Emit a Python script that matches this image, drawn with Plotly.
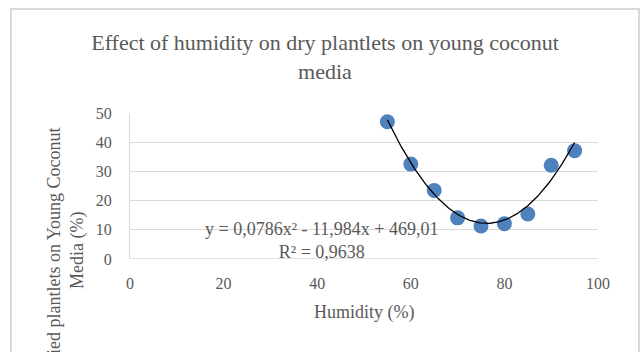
import numpy as np
import plotly.graph_objects as go

humidity = [55, 60, 65, 70, 75, 80, 85, 90, 95]
dried = [47.0, 32.5, 23.5, 14.1, 11.3, 12.1, 15.4, 32.1, 37.1]
coef = [0.0786, -11.984, 469.01]
x_ticks = [0, 20, 40, 60, 80, 100]
y_ticks = [0, 10, 20, 30, 40, 50]

xs = np.linspace(55, 95, 200)
ys = coef[0] * xs**2 + coef[1] * xs + coef[2]

FONT = "Liberation Serif"
GRAY = "#595959"

fig = go.Figure()
fig.add_trace(go.Scatter(x=humidity, y=dried, mode="markers",
                         marker=dict(size=15, color="#4f81bd", line=dict(width=0)),
                         showlegend=False))
fig.add_trace(go.Scatter(x=xs, y=ys, mode="lines",
                         line=dict(color="black", width=1.3), showlegend=False))

L, R, T, B = 130, 43, 113, 93
W, H = 641, 352
pw, ph = W - L - R, H - T - B

def px(xp):
    return (xp - L) / pw

def py(yp):
    return (H - B - yp) / ph

fig.update_layout(
    width=W, height=H,
    margin=dict(l=L, r=R, t=T, b=B),
    paper_bgcolor="white", plot_bgcolor="white",
    font=dict(family=FONT, color=GRAY, size=16),
    title=dict(text="Effect of humidity on dry plantlets on young coconut<br>media",
               x=325 / W, xanchor="center", y=1 - 50 / H, yanchor="middle",
               font=dict(size=22, color=GRAY, family=FONT)),
    xaxis=dict(range=[0, 100], tickvals=x_ticks, showgrid=False, zeroline=False,
               showline=False, ticks="", tickfont=dict(size=16, color=GRAY),
               ticklabelstandoff=13),
    yaxis=dict(range=[0, 50], tickvals=y_ticks, showgrid=True, gridcolor="#d9d9d9",
               gridwidth=1.3, zeroline=False, showline=True, linecolor="#d9d9d9",
               linewidth=1.3, ticks="", tickfont=dict(size=16, color=GRAY),
               ticklabelstandoff=14),
    shapes=[
        dict(type="rect", xref="paper", yref="paper",
             x0=px(11), x1=px(639), y0=py(400), y1=py(9),
             line=dict(color="#d9d9d9", width=2), fillcolor="rgba(0,0,0,0)", layer="below"),
        dict(type="line", xref="paper", yref="y", x0=0, x1=1, y0=0, y1=0,
             line=dict(color="#d9d9d9", width=1.3)),
    ],
    annotations=[
        dict(text="y = 0,0786x² - 11,984x + 469,01<br>R² = 0,9638", xref="paper", yref="paper",
             x=px(322), y=py(240), xanchor="center", yanchor="middle", showarrow=False,
             font=dict(size=18, color=GRAY, family=FONT)),
        dict(text="Dried plantlets on Young Coconut<br>Media (%)", xref="paper", yref="paper",
             x=px(66), y=py(250), xanchor="center", yanchor="middle", textangle=-90,
             showarrow=False, font=dict(size=18, color=GRAY, family=FONT)),
        dict(text="Humidity (%)", xref="paper", yref="paper",
             x=px(364), y=py(312), xanchor="center", yanchor="middle",
             showarrow=False, font=dict(size=18, color=GRAY, family=FONT)),
    ],
)

fig.write_html("out.html", config={"displayModeBar": False},
               post_script="document.body.style.margin='0';document.body.style.overflow='hidden';")
